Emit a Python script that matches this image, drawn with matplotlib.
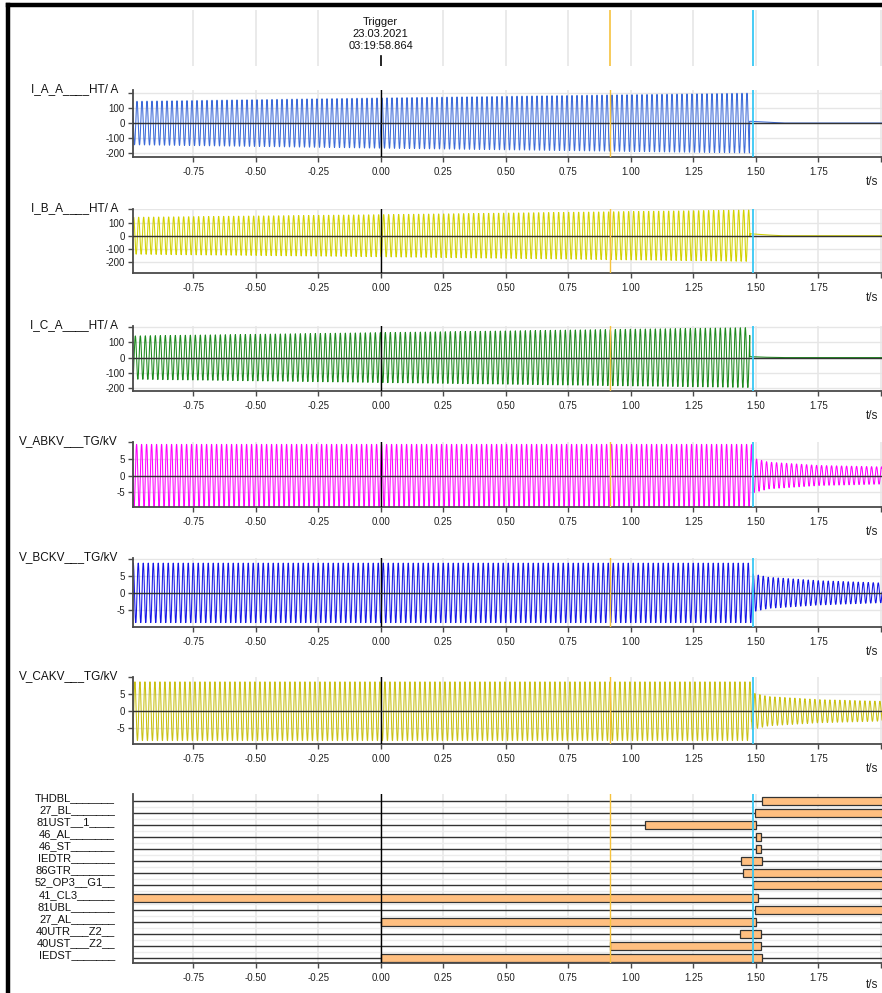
import numpy as np
import matplotlib
matplotlib.use("Agg")
import matplotlib.pyplot as plt

plt.rcParams['font.family'] = ['Liberation Sans', 'DejaVu Sans']

# ---------------- data ----------------
freq_hz = 50.0
trigger_lines = ["Trigger", "23.03.2021", "03:19:58.864"]
cursor_orange_t = 0.918
cursor_cyan_t = 1.489
x_ticks = [-0.75, -0.50, -0.25, 0.00, 0.25, 0.50, 0.75, 1.00, 1.25, 1.50, 1.75, 2.00]
x_tick_labels = ["-0.75", "-0.50", "-0.25", "0.00", "0.25", "0.50", "0.75",
                 "1.00", "1.25", "1.50", "1.75", ""]

analog_names = ["I_A_A____HT/ A", "I_B_A____HT/ A", "I_C_A____HT/ A",
                "V_ABKV___TG/kV", "V_BCKV___TG/kV", "V_CAKV___TG/kV"]
analog_colors = ["#3c6ad8", "#d2d200", "#1d8a1d", "#ff00ff", "#1414e6", "#c8c012"]
analog_phase_deg = [0, -120, 120, 30, -90, 150]
analog_trip_t = [1.475, 1.477, 1.476, 1.483, 1.484, 1.483]

# pre-trip amplitude envelopes (time, peak)
pre_env_t = [-1.0, 0.0, 1.47]
IA_pre = [145, 168, 200]
IB_pre = [140, 160, 195]
IC_pre = [141, 163, 195]
VAB_pre = [9.3, 9.3, 9.3]
VBC_pre = [8.8, 8.8, 8.8]
VCA_pre = [8.6, 8.6, 8.6]

# post-trip envelopes (time, peak) – voltages decay, currents leave small DC tail
post_env_t = [1.483, 1.55, 1.75, 2.05]
VAB_post = [5.3, 4.0, 3.0, 2.5]
VBC_post = [5.7, 4.6, 3.6, 2.8]
VCA_post = [5.4, 4.3, 3.4, 2.8]
cur_tail_t = [1.476, 1.52, 1.60, 2.05]
IA_tail = [12, 8, 0, 0]
IB_tail = [15, 9, 0, 0]
IC_tail = [6, 3, 0, 0]

analog_ylims = [(-227, 221), (-283, 203), (-218, 206),
                (-9.4, 9.3), (-10.1, 10.3), (-9.6, 9.6)]
analog_yticks = [[-200, -100, 0, 100, 200], [-200, -100, 0, 100, 200],
                 [-200, -100, 0, 100, 200], [-5, 0, 5, 10], [-5, 0, 5, 10], [-5, 0, 5, 10]]

digital_names = ["THDBL_______", "27_BL_______", "81UST__1____", "46_AL_______",
                 "46_ST_______", "IEDTR_______", "86GTR_______", "52_OP3__G1__",
                 "41_CL3______", "81UBL_______", "27_AL_______", "40UTR___Z2__",
                 "40UST___Z2__", "IEDST_______"]
digital_start = [1.524, 1.496, 1.056, 1.500, 1.500, 1.442, 1.450, 1.490,
                 -1.000, 1.496, 0.000, 1.437, 0.918, 0.000]
digital_end = [2.100, 2.100, 1.500, 1.520, 1.520, 1.524, 2.100, 2.100,
               1.509, 2.100, 1.500, 1.521, 1.521, 1.524]

# ---------------- layout helpers ----------------
W, H = 882, 993
X_LEFT, X_RIGHT = 132.5, 882
XLIM = (-0.993, 2.005)

fig = plt.figure(figsize=(W / 100, H / 100), dpi=100)

def ax_box(top, bottom):
    return [X_LEFT / W, 1 - bottom / H, (X_RIGHT - X_LEFT) / W, (bottom - top) / H]

GRID_C = "#e6e6e6"
SPINE_C = "#4a4a4a"
ORANGE = "#f6c23e"
CYAN = "#38c8f4"

# frame border
fig.add_artist(plt.Line2D([8 / W, 8 / W], [0, 1 - 5 / H], color="black", lw=3.2,
                          transform=fig.transFigure))
fig.add_artist(plt.Line2D([8 / W, 1], [1 - 5 / H, 1 - 5 / H], color="black", lw=3.2,
                          transform=fig.transFigure))

# header axis
hax = fig.add_axes(ax_box(10, 66))
hax.set_xlim(*XLIM)
hax.set_ylim(0, 1)
hax.axis("off")
for xt in x_ticks:
    if xt != 0:
        hax.axvline(xt, color=GRID_C, lw=1.2)
hax.axvline(cursor_orange_t, color=ORANGE, lw=1.2)
hax.axvline(cursor_cyan_t, color=CYAN, lw=1.3)
hax.plot([0, 0], [0, 0.17], color="black", lw=1.2)
hax.text(0, 0.57, "\n".join(trigger_lines), ha="center", va="center",
         fontsize=8, linespacing=1.22, color="#111")

panel_boxes = [(90, 157), (209, 273), (326, 391), (442, 507), (558, 627), (677, 744)]
pre_envs = [IA_pre, IB_pre, IC_pre, VAB_pre, VBC_pre, VCA_pre]
post_envs = [None, None, None, VAB_post, VBC_post, VCA_post]
tails = [IA_tail, IB_tail, IC_tail, None, None, None]

t = np.arange(-1.0, 2.06, 0.0004)


def style_axis(ax, top, bottom, ts_offset=25):
    ax.set_xlim(*XLIM)
    for s in ("top", "right"):
        ax.spines[s].set_visible(False)
    for s in ("left", "bottom"):
        ax.spines[s].set_color(SPINE_C)
        ax.spines[s].set_linewidth(1.3)
    ax.set_xticks(x_ticks)
    ax.set_xticklabels(x_tick_labels)
    ax.tick_params(axis="both", labelsize=7, length=3.5, width=1, color=SPINE_C,
                   labelcolor="#222", pad=4)
    ax.tick_params(axis="y", pad=2)
    for xt in x_ticks:
        ax.axvline(xt, color=GRID_C, lw=1.1, zorder=0)
    ax.axvline(0, color="black", lw=1.0, zorder=3)
    ax.axvline(cursor_orange_t, color=ORANGE, lw=1.0, zorder=4)
    ax.axvline(cursor_cyan_t, color=CYAN, lw=1.3, zorder=4)
    fig.text(872 / W, 1 - (bottom + ts_offset) / H, "t/s", ha="center", va="center",
             fontsize=8.5, color="#222")


for i, (top, bottom) in enumerate(panel_boxes):
    ax = fig.add_axes(ax_box(top, bottom))
    style_axis(ax, top, bottom)
    trip = analog_trip_t[i]
    amp_pre = np.interp(t, pre_env_t, pre_envs[i])
    carrier = np.sin(2 * np.pi * freq_hz * t + np.deg2rad(analog_phase_deg[i]))
    y = np.where(t < trip, amp_pre * carrier, 0.0)
    if post_envs[i] is not None:
        amp_post = np.interp(t, post_env_t, post_envs[i])
        y = np.where(t >= trip, amp_post * carrier, y)
    else:
        tail = np.interp(t, cur_tail_t, tails[i])
        y = np.where(t >= trip, tail, y)
    ax.plot(t, y, color=analog_colors[i], lw=0.75, zorder=2)
    ax.axhline(0, color="#333333", lw=1.0, zorder=3)
    ylo, yhi = analog_ylims[i]
    ax.set_ylim(ylo, yhi)
    yt = analog_yticks[i]
    ax.set_yticks(yt)
    ax.set_yticklabels([str(v) if v != yt[-1] else "" for v in yt])
    for yv in yt:
        if ylo <= yv <= yhi:
            ax.axhline(yv, color=GRID_C, lw=1.0, zorder=0)
    fig.text(118 / W, 1 - (top - 1) / H, analog_names[i], ha="right", va="center",
             fontsize=8.5, color="#111")

# digital panel
dax = fig.add_axes(ax_box(794, 963))
style_axis(dax, 794, 963, ts_offset=22)
n = len(digital_names)
dax.set_ylim(n - 1 + 0.41, -0.55)
dax.set_yticks([])
dax.tick_params(axis="y", length=0)
for k in range(n):
    dax.axhline(k, color="#333333", lw=1.0, zorder=1)
    if k < n - 1:
        dax.axhline(k + 0.5, color="#ececec", lw=1.0, zorder=0)
dax.barh(range(n), np.array(digital_end) - np.array(digital_start), left=digital_start,
         height=0.66, color="#ffbf80", edgecolor="#333333", linewidth=0.9, zorder=2)
for k, name in enumerate(digital_names):
    y_pix = 800.7 + k * 12.12
    fig.text(115 / W, 1 - (y_pix - 3) / H, name, ha="right", va="center",
             fontsize=8, color="#111")

fig.savefig("out.png", dpi=100)
